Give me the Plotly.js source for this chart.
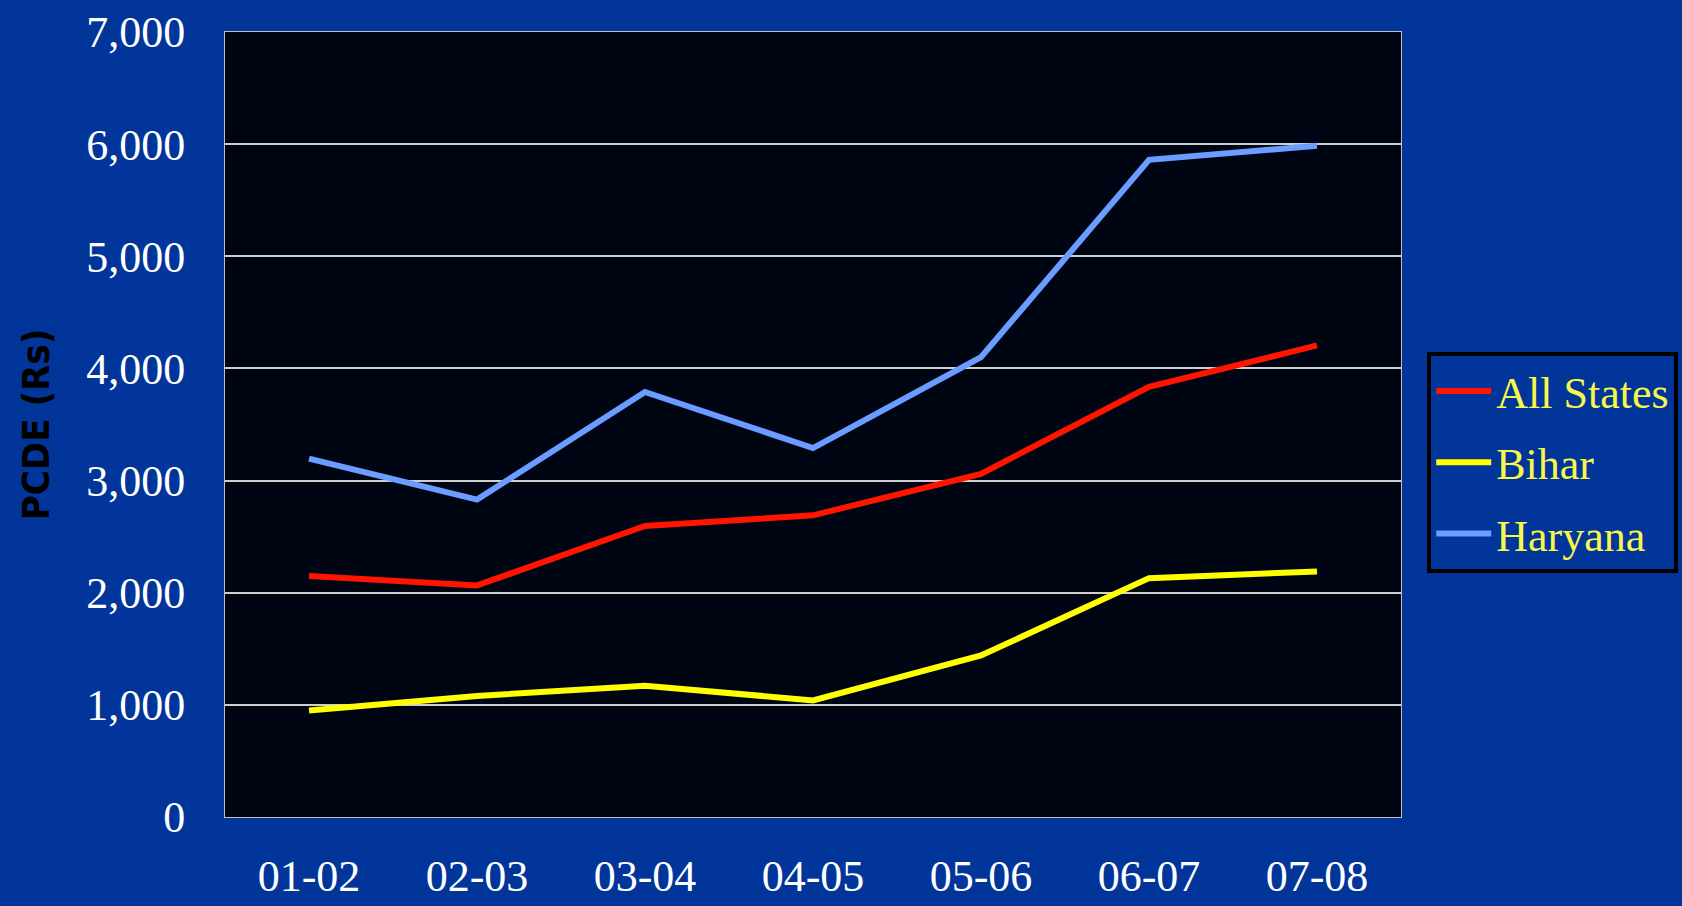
<!DOCTYPE html>
<html>
<head>
<meta charset="utf-8">
<script src="https://cdn.plot.ly/plotly-3.0.1.min.js"></script>
<style>
  html, body { margin: 0; padding: 0; background: #023599; }
  #chart { width: 1682px; height: 906px; }
</style>
</head>
<body>
<div id="chart"></div>
<script>
const years = ["01-02", "02-03", "03-04", "04-05", "05-06", "06-07", "07-08"];
const allStates = [2150, 2065, 2595, 2690, 3060, 3835, 4205];
const bihar = [950, 1080, 1170, 1040, 1440, 2130, 2190];
const haryana = [3195, 2830, 3790, 3290, 4100, 5860, 5985];
const yTicks = [0, 1000, 2000, 3000, 4000, 5000, 6000, 7000];

const serif = "Liberation Serif, Times New Roman, serif";

const traces = [
  { x: years, y: allStates, name: "All States", legendgroup: "a", type: "scatter", mode: "lines",
    line: { color: "#ff1400", width: 6 } },
  { x: years, y: bihar, name: "Bihar", legendgroup: "b", type: "scatter", mode: "lines",
    line: { color: "#ffff00", width: 6 } },
  { x: years, y: haryana, name: "Haryana", legendgroup: "c", type: "scatter", mode: "lines",
    line: { color: "#6b9cff", width: 6 } }
];

const layout = {
  width: 1682, height: 906,
  paper_bgcolor: "#023599",
  plot_bgcolor: "#000514",
  margin: { l: 225, r: 281, t: 32, b: 89, autoexpand: false },
  showlegend: true,
  legend: {
    x: 1.0223, y: 0.5925, xanchor: "left", yanchor: "top",
    bgcolor: "#023599", bordercolor: "#000000", borderwidth: 4,
    font: { family: serif, size: 44, color: "#f8f84a" },
    tracegroupgap: 11, itemwidth: 55
  },
  xaxis: {
    type: "category",
    range: [-0.5, 6.5],
    showgrid: false,
    showline: true, linecolor: "#bfbfbf", linewidth: 1, mirror: true,
    ticks: "", ticklabelstandoff: 20,
    tickfont: { family: serif, size: 44, color: "#ffffff" },
    zeroline: false
  },
  yaxis: {
    range: [0, 7000],
    tickvals: yTicks,
    tickformat: ",d",
    showgrid: true, gridcolor: "#cfcfcf", gridwidth: 2,
    showline: true, linecolor: "#bfbfbf", linewidth: 1, mirror: true,
    ticks: "", ticklabelstandoff: 30,
    tickfont: { family: serif, size: 44, color: "#ffffff" },
    zeroline: false,
    title: { text: "PCDE (Rs)", standoff: 24,
      font: { family: "Liberation Sans Narrow, DejaVu Sans Condensed, Liberation Sans, sans-serif", size: 38, color: "#000000", weight: "bold" } }
  }
};

Plotly.newPlot("chart", traces, layout, { displayModeBar: false, staticPlot: true });
</script>
</body>
</html>
